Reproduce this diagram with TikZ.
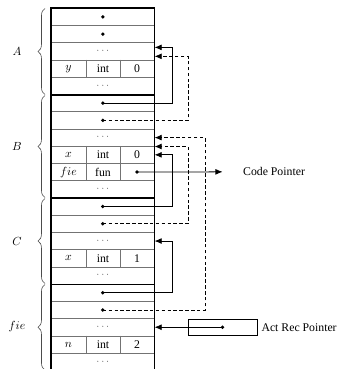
\documentclass[tikz,border=0pt]{standalone}
\usepackage{fontspec}
\setmainfont{Liberation Serif}
\usetikzlibrary{calc,decorations.pathreplacing,arrows.meta}

\tikzset{
  slot/.style={draw=black!55, line width=0.5pt, minimum width=87.55pt,
    minimum height=14.65pt, inner sep=0pt, anchor=north west},
  frm/.style={line width=1.5pt},
  sep/.style={draw=black!55, line width=0.5pt},
  ptr/.style={-{Latex[length=6pt,width=5pt]}, line width=0.65pt},
  dptr/.style={ptr, dash pattern=on 3pt off 2pt},
  brc/.style={decorate, decoration={brace, amplitude=6pt}, black!70, line width=0.5pt},
  pt/.style={circle, fill, inner sep=0pt, minimum size=3.2pt},
  gap/.style={text=black!60, font=\small}
}

\begin{document}
\begin{tikzpicture}[x=0.85pt,y=-0.85pt]
\useasboundingbox (0,0) rectangle (339,369);

% column and rail positions
\coordinate (c1) at (68.5,0);
\coordinate (c2) at (103,0);
\coordinate (c3) at (137,0);
\coordinate (d1) at (86,0);
\coordinate (d2) at (120,0);
\coordinate (k1) at (172,0);
\coordinate (k2) at (188,0);
\coordinate (k3) at (205,0);
\coordinate (ab) at (222.5,0);

% the stack
\foreach \i in {1,...,21}
  \node[slot] (r\i) at (51,{8+(\i-1)*17.24}) {};
\foreach \i in {4,9,10,15,20} {
  \draw[sep] (d1 |- r\i.north) -- (d1 |- r\i.south);
  \draw[sep] (d2 |- r\i.north) -- (d2 |- r\i.south);
}
\draw[frm] (r1.north west) rectangle (r21.south east);
\foreach \i in {5,11,16}
  \draw[frm] (r\i.south west) -- (r\i.south east);

% contents
\foreach \i in {1,2,6,7,12,13,17,18}
  \node[pt] (p\i) at (r\i.center) {};
\foreach \i in {3,5,8,11,14,16,19,21}
  \node[gap] (g\i) at (r\i.center) {$\cdots$};

\node (v4a) at (r4.center -| c1) {$y$};
\node (v4b) at (r4.center -| c2) {int};
\node (v4c) at (r4.center -| c3) {0};
\node (v9a) at (r9.center -| c1) {$x$};
\node (v9b) at (r9.center -| c2) {int};
\node (v9c) at (r9.center -| c3) {0};
\node (v10a) at (r10.center -| c1) {$fie$};
\node (v10b) at (r10.center -| c2) {fun};
\node[pt] (p10) at (r10.center -| c3) {};
\node (v15a) at (r15.center -| c1) {$x$};
\node (v15b) at (r15.center -| c2) {int};
\node (v15c) at (r15.center -| c3) {1};
\node (v20a) at (r20.center -| c1) {$n$};
\node (v20b) at (r20.center -| c2) {int};
\node (v20c) at (r20.center -| c3) {2};

% frames
\draw[brc] (45,94.5) -- (45,8.5);
\draw[brc] (45,197.5) -- (45,95.5);
\draw[brc] (45,283.5) -- (45,198.5);
\draw[brc] (45,370) -- (45,284.5);
\node (la) at (17,51.5) {$A$};
\node (lb) at (17,146.5) {$B$};
\node (lc) at (17,241) {$C$};
\node (lfie) at (17,327) {$fie$};

% links
\draw[ptr] (p6.center) -- (p6.center -| k1) |- ([yshift=3.4pt]r3.east);
\draw[dptr] (p7.center) -- (p7.center -| k2) |- ([yshift=-4.2pt]r3.east);
\draw[ptr] (p12.center) -- (p12.center -| k1) |- (r9.east);
\draw[dptr] (p13.center) -- (p13.center -| k2) |- (r8.south east);
\draw[ptr] (p17.center) -- (p17.center -| k1) |- (r14.east);
\draw[dptr] (p18.center) -- (p18.center -| k3) |- (r8.east);

% code pointer
\node[anchor=west] (cp) at (239,171.8) {Code Pointer};
\draw[ptr, shorten >=14pt] (p10.center) -- (cp.west);

% act rec pointer
\node[draw, line width=0.6pt, minimum width=58.65pt, minimum height=13.6pt,
  inner sep=0pt] (arb) at (r19.center -| ab) {};
\node[pt] (par) at (arb.center) {};
\node[anchor=west] (arl) at (arb.east) {Act Rec Pointer};
\draw[ptr] (par.center) -- (r19.east);
\end{tikzpicture}
\end{document}
